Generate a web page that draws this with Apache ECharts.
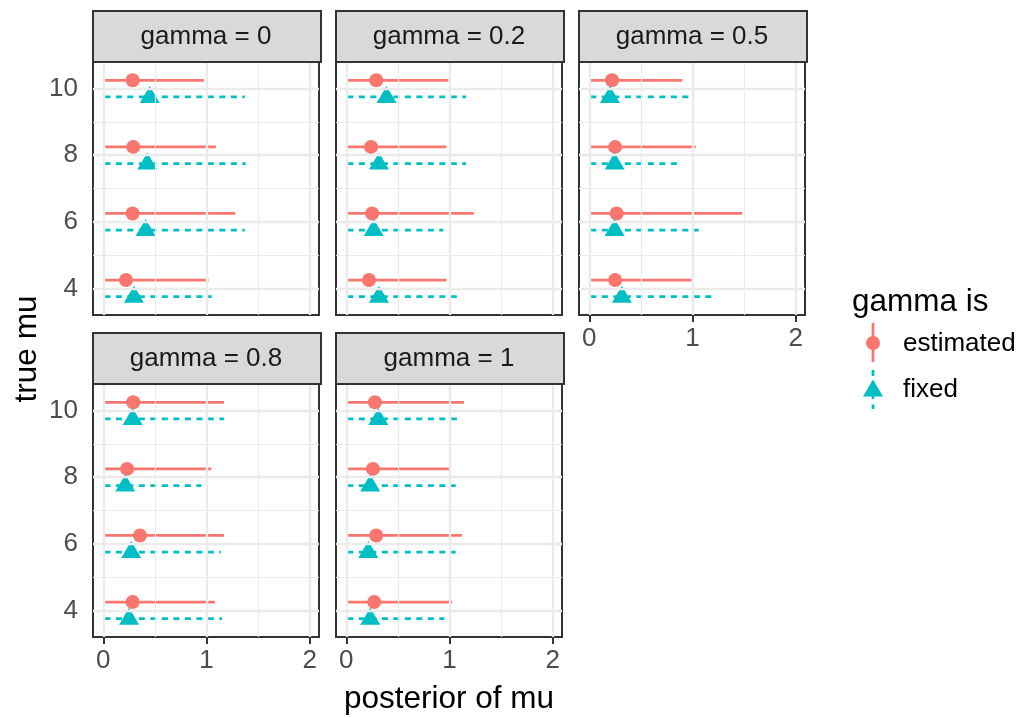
<!DOCTYPE html>
<html>
<head>
<meta charset="utf-8">
<script src="https://cdn.jsdelivr.net/npm/echarts@6.0.0/dist/echarts.min.js"></script>
<style>
html,body{margin:0;padding:0;background:#fff;}
#chart{width:1024px;height:718px;}
</style>
</head>
<body>
<div id="chart"></div>
<script>
// ---- data ----
const panelTitles = ['gamma = 0', 'gamma = 0.2', 'gamma = 0.5', 'gamma = 0.8', 'gamma = 1'];
const trueMu = [4, 6, 8, 10];
const legendTitle = 'gamma is';
const groupNames = ['estimated', 'fixed'];
// per panel, per trueMu (4, 6, 8, 10)
const estLow  = [[0.01,0.01,0.01,0.01],[0.01,0.01,0.01,0.01],[0.01,0.01,0.01,0.01],[0.01,0.01,0.01,0.01],[0.01,0.01,0.01,0.01]];
const estMid  = [[0.22,0.284,0.29,0.284],[0.22,0.25,0.24,0.29],[0.25,0.265,0.25,0.22],[0.284,0.355,0.23,0.29],[0.27,0.29,0.258,0.277]];
const estHigh = [[1.02,1.28,1.09,0.974],[0.97,1.235,0.97,0.99],[0.99,1.48,1.03,0.90],[1.08,1.17,1.045,1.17],[1.026,1.12,1.006,1.14]];
const fixLow  = [[0.01,0.01,0.01,0.01],[0.01,0.01,0.01,0.01],[0.01,0.01,0.01,0.01],[0.01,0.01,0.01,0.01],[0.01,0.01,0.01,0.01]];
const fixMid  = [[0.297,0.41,0.426,0.45],[0.316,0.265,0.316,0.39],[0.316,0.245,0.245,0.20],[0.25,0.27,0.213,0.284],[0.232,0.213,0.232,0.31]];
const fixHigh = [[1.05,1.37,1.38,1.37],[1.11,0.94,1.16,1.16],[1.235,1.06,0.90,0.98],[1.15,1.14,0.95,1.17],[0.95,1.06,1.06,1.11]];
const xTicks = [0, 1, 2];
const xMinor = [0.5, 1.5];
const yTicks = [4, 6, 8, 10];
const yMinor = [5, 7, 9];
const dodge = 0.25;

// ---- layout ----
const FONT = '"Liberation Sans", Arial, Helvetica, sans-serif';
const colEst = '#F8766D', colFix = '#00BFC4';
const PW = 226, PH = 254, STRIP_H = 51;
const SMALL = 26, BIG = 31.5;
const panels = [
  {l: 93, t: 61, yAxis: true,  xAxis: false},
  {l: 336, t: 61, yAxis: false, xAxis: false},
  {l: 579, t: 61, yAxis: false, xAxis: true},
  {l: 93, t: 383, yAxis: true,  xAxis: true},
  {l: 336, t: 383, yAxis: false, xAxis: true}
];

const grid = [], xAxis = [], yAxis = [], series = [], graphic = [];

function rangeSeries(i, low, high, off, color, dashed) {
  return {
    type: 'custom', xAxisIndex: i, yAxisIndex: i, z: 3, silent: true,
    data: trueMu.map((m, k) => [low[i][k], high[i][k], m + off]),
    encode: {x: [0, 1], y: 2},
    renderItem: function (params, api) {
      const y = api.value(2);
      const p1 = api.coord([api.value(0), y]);
      const p2 = api.coord([api.value(1), y]);
      return {
        type: 'line',
        shape: {x1: p1[0], y1: p1[1], x2: p2[0], y2: p2[1]},
        style: {stroke: color, lineWidth: 2.7, lineDash: dashed ? [6, 5.5] : null, lineCap: 'butt'}
      };
    }
  };
}

panels.forEach((p, i) => {
  grid.push({left: p.l, top: p.t, width: PW, height: PH, show: true,
    backgroundColor: '#fff', borderColor: '#333333', borderWidth: 2, containLabel: false});
  xAxis.push({
    type: 'value', gridIndex: i, min: -0.1, max: 2.09,
    axisLine: {show: false},
    axisTick: {show: p.xAxis, customValues: xTicks, length: 7, lineStyle: {color: '#333333', width: 2}},
    axisLabel: {show: p.xAxis, customValues: xTicks, margin: 11, fontSize: SMALL, color: '#4D4D4D', fontFamily: FONT},
    splitLine: {show: false}
  });
  yAxis.push({
    type: 'value', gridIndex: i, min: 3.2, max: 10.83,
    axisLine: {show: false},
    axisTick: {show: p.yAxis, customValues: yTicks, length: 7, lineStyle: {color: '#333333', width: 2}},
    axisLabel: {show: p.yAxis, customValues: yTicks, margin: 15, fontSize: SMALL, color: '#4D4D4D', fontFamily: FONT},
    splitLine: {show: false}
  });
  // grid lines
  const major = {color: '#EBEBEB', width: 2.4, type: 'solid'};
  const minor = {color: '#EBEBEB', width: 1.2, type: 'solid'};
  const ml = [];
  xMinor.forEach(v => ml.push({xAxis: v, lineStyle: minor}));
  yMinor.forEach(v => ml.push({yAxis: v, lineStyle: minor}));
  xTicks.forEach(v => ml.push({xAxis: v, lineStyle: major}));
  yTicks.forEach(v => ml.push({yAxis: v, lineStyle: major}));
  series.push({
    type: 'scatter', xAxisIndex: i, yAxisIndex: i, data: [], z: 1, silent: true,
    markLine: {silent: true, symbol: ['none', 'none'], animation: false,
      label: {show: false}, data: ml}
  });
  series.push(rangeSeries(i, estLow, estHigh, dodge, colEst, false));
  series.push({
    type: 'scatter', xAxisIndex: i, yAxisIndex: i, z: 4, silent: true,
    symbol: 'circle', symbolSize: 14, itemStyle: {color: colEst, opacity: 1},
    data: trueMu.map((m, k) => [estMid[i][k], m + dodge])
  });
  series.push(rangeSeries(i, fixLow, fixHigh, -dodge, colFix, true));
  series.push({
    type: 'scatter', xAxisIndex: i, yAxisIndex: i, z: 4, silent: true,
    symbol: 'triangle', symbolSize: [20, 17], symbolOffset: [0, -2.5], itemStyle: {color: colFix, opacity: 1},
    data: trueMu.map((m, k) => [fixMid[i][k], m - dodge])
  });
  // strip
  graphic.push({type: 'rect', left: p.l - 1, top: p.t - STRIP_H, z: 10,
    shape: {width: PW + 2, height: STRIP_H},
    style: {fill: '#D9D9D9', stroke: '#333333', lineWidth: 2}});
  graphic.push({type: 'text', x: p.l + PW / 2, y: p.t - STRIP_H / 2 + 1, z: 11,
    style: {text: panelTitles[i], fontSize: SMALL, fill: '#1A1A1A', fontFamily: FONT,
      align: 'center', verticalAlign: 'middle'}});
});

// axis titles
graphic.push({type: 'text', x: 449, y: 699, z: 11,
  style: {text: 'posterior of mu', fontSize: BIG, fill: '#000', fontFamily: FONT, align: 'center', verticalAlign: 'middle'}});
graphic.push({type: 'text', x: 27, y: 349, rotation: Math.PI / 2, z: 11,
  style: {text: 'true mu', fontSize: BIG, fill: '#000', fontFamily: FONT, align: 'center', verticalAlign: 'middle'}});

// legend
graphic.push({type: 'text', x: 852, y: 302, z: 11,
  style: {text: legendTitle, fontSize: BIG, fill: '#000', fontFamily: FONT, align: 'left', verticalAlign: 'middle'}});
graphic.push({type: 'line', z: 11, shape: {x1: 873, y1: 323, x2: 873, y2: 362},
  style: {stroke: colEst, lineWidth: 2.7}});
graphic.push({type: 'circle', z: 12, shape: {cx: 873, cy: 343, r: 7}, style: {fill: colEst}});
graphic.push({type: 'text', x: 903, y: 344, z: 11,
  style: {text: groupNames[0], fontSize: SMALL, fill: '#000', fontFamily: FONT, align: 'left', verticalAlign: 'middle'}});
graphic.push({type: 'line', z: 11, shape: {x1: 873, y1: 370, x2: 873, y2: 409},
  style: {stroke: colFix, lineWidth: 2.7, lineDash: [6, 5.5]}});
graphic.push({type: 'polygon', z: 12, shape: {points: [[873, 379.5], [883, 396.5], [863, 396.5]]}, style: {fill: colFix}});
graphic.push({type: 'text', x: 903, y: 390, z: 11,
  style: {text: groupNames[1], fontSize: SMALL, fill: '#000', fontFamily: FONT, align: 'left', verticalAlign: 'middle'}});

const chart = echarts.init(document.getElementById('chart'), null, {renderer: 'canvas'});
chart.setOption({
  animation: false,
  backgroundColor: '#fff',
  textStyle: {fontFamily: FONT},
  grid, xAxis, yAxis, series, graphic
});
</script>
</body>
</html>
